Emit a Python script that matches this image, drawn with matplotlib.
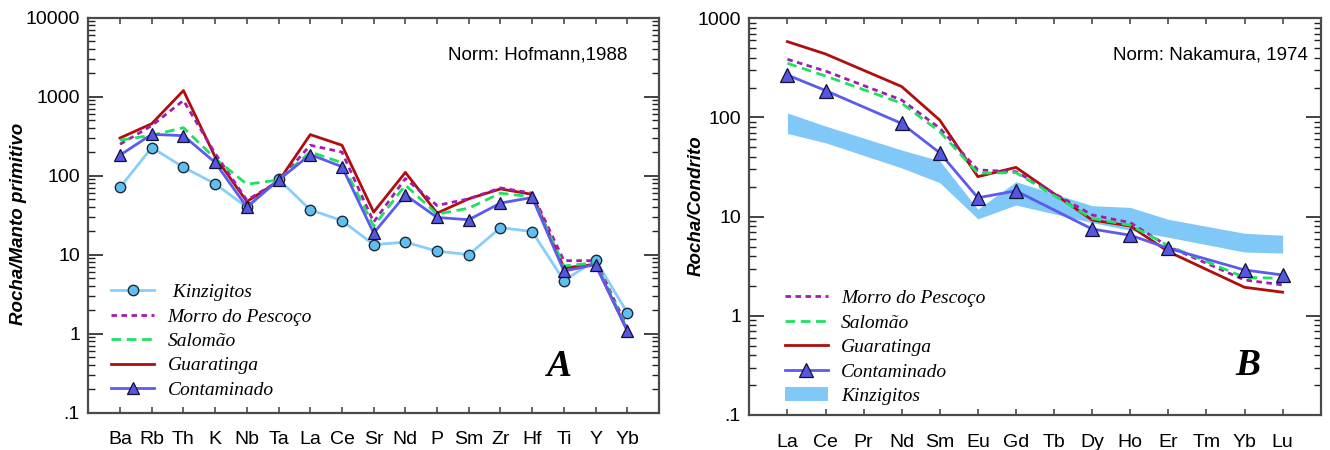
import matplotlib
matplotlib.use("Agg")
import matplotlib.pyplot as plt
from matplotlib.patches import Patch
from matplotlib.ticker import FixedLocator, FixedFormatter, LogLocator, NullFormatter

# ---------------- data: panel A (primitive mantle normalised) ----------------
spider_elems = ["Ba", "Rb", "Th", "K", "Nb", "Ta", "La", "Ce", "Sr", "Nd", "P",
                "Sm", "Zr", "Hf", "Ti", "Y", "Yb"]
kinz_A = [71, 227, 128, 79, 40, 90, 37, 27, 13.4, 14.4, 11.1, 10.0, 22, 19.6, 4.7, 8.5, 1.85]
morro_A = [250, 430, 895, 191, 49, 85, 243, 199, 25.9, 92, 42, 51, 70, 60, 8.4, 8.4, 1.2]
salomao_A = [281, 325, 405, 165, 78, 88, 200, 146, 23, 76, 32.6, 38.8, 60, 54, 7.2, 7.9, 1.15]
guar_A = [300, 455, 1196, 173, 47, 85, 331, 243, 34.6, 110, 33.6, 51, 68, 58, 6.8, 7.5, 1.09]
cont_A = [182, 334, 321, 147, 40, 88, 185, 130, 18.8, 57, 29.6, 27.7, 45, 53, 6.2, 7.5, 1.09]

# ---------------- data: panel B (chondrite normalised REE) ----------------
ree_elems = ["La", "Ce", "Pr", "Nd", "Sm", "Eu", "Gd", "Tb", "Dy", "Ho", "Er", "Tm", "Yb", "Lu"]
morro_B = [386, 294, None, 150, 78, 29.6, 28.4, None, 10.4, 8.7, 5.0, None, 2.3, 2.05]
salomao_B = [352, 262, None, 139, 72, 27.4, 27.8, None, 9.6, 8.2, 5.1, None, 2.44, 2.39]
guar_B = [582, 437, None, 205, 94, 25.3, 31.4, None, 9.25, 8.05, 4.44, None, 1.94, 1.73]
cont_B = [268, 187, None, 87, 44, 15.5, 18.2, None, 7.5, 6.5, 4.8, None, 2.9, 2.58]
kinz_B_high = [111, 82, None, 47, 36.6, 11.9, 22.5, None, 12.9, 12.4, 9.4, None, 6.8, 6.5]
kinz_B_low = [69, 55.6, None, 31, 22, 9.5, 13.1, None, 8.7, 7.3, 6.2, None, 4.4, 4.3]

ytick_vals = [0.1, 1, 10, 100, 1000, 10000]
ytick_labels = [".1", "1", "10", "100", "1000", "10000"]

# ---------------- style ----------------
SANS = "Liberation Sans"
SERIF = "Liberation Serif"
C_KINZ_LINE = "#87cefa"
C_KINZ_FACE = "#5fbfee"
C_MORRO = "#a21caf"
C_SAL = "#1fe060"
C_GUAR = "#b00d0d"
C_CONT = "#5b5bef"
C_CONT_FACE = "#5656e0"
C_BAND = "#80c8f8"
C_SPINE = "#4a4a4a"

plt.rcParams["font.family"] = [SANS, "DejaVu Sans"]

fig = plt.figure(figsize=(13.3, 4.5), dpi=100)
axA = fig.add_axes([0.0664, 0.0829, 0.4291, 0.8778])
axB = fig.add_axes([0.5634, 0.0778, 0.4296, 0.8815])


def present(vals):
    idx = [i for i, v in enumerate(vals) if v is not None]
    return idx, [vals[i] for i in idx]


def style_axes(ax, cats, ymax, ylabels_n):
    ax.set_yscale("log")
    ax.set_xlim(-1, len(cats))
    ax.set_ylim(0.1, ymax)
    ax.set_xticks(range(len(cats)))
    ax.set_xticklabels(cats, fontsize=14, fontfamily=SANS)
    ax.yaxis.set_major_locator(FixedLocator(ytick_vals[:ylabels_n]))
    ax.yaxis.set_major_formatter(FixedFormatter(ytick_labels[:ylabels_n]))
    ax.yaxis.set_minor_locator(LogLocator(base=10, subs=range(2, 10), numticks=20))
    ax.yaxis.set_minor_formatter(NullFormatter())
    ax.tick_params(axis="x", which="major", direction="in", top=True, bottom=True,
                   length=4, width=1.2, color=C_SPINE, pad=13.5)
    ax.tick_params(axis="y", which="major", direction="in", left=True, right=True,
                   length=10.5, width=1.2, color="#222222", labelsize=14, pad=6)
    ax.tick_params(axis="y", which="minor", direction="in", left=True, right=True,
                   length=5, width=1.0, color="#222222")
    for sp in ax.spines.values():
        sp.set_color(C_SPINE)
        sp.set_linewidth(1.6)


# ---------------- Panel A ----------------
xA = list(range(len(spider_elems)))
lk, = axA.plot(xA, kinz_A, color=C_KINZ_LINE, lw=2, marker="o", ms=7.5,
               mfc=C_KINZ_FACE, mec="#1b2a3a", mew=1.0, zorder=3)
lg, = axA.plot(xA, guar_A, color=C_GUAR, lw=2, zorder=4)
lm, = axA.plot(xA, morro_A, color=C_MORRO, lw=2, ls=(0, (2, 1.6)), zorder=5)
ls_, = axA.plot(xA, salomao_A, color=C_SAL, lw=2, ls=(0, (3.5, 2)), zorder=5)
lc, = axA.plot(xA, cont_A, color=C_CONT, lw=2, marker="^", ms=8,
               mfc=C_CONT_FACE, mec="#111133", mew=0.9, zorder=6)
style_axes(axA, spider_elems, 10000, 6)
axA.set_ylabel("Rocha/Manto primitivo", fontsize=13.5, fontweight="bold",
               fontstyle="italic", fontfamily=SANS)
axA.yaxis.set_label_coords(-0.108, 0.478)
axA.text(0.945, 0.905, "Norm: Hofmann,1988", transform=axA.transAxes,
         ha="right", va="center", fontsize=13.5, fontfamily=SANS)
axA.text(0.825, 0.116, "A", transform=axA.transAxes, ha="center", va="center",
         fontsize=27, fontweight="bold", fontstyle="italic", fontfamily=SERIF)
legA = axA.legend([lk, lm, ls_, lg, lc],
                  [" Kinzigitos", "Morro do Pescoço", "Salomão", "Guaratinga", "Contaminado"],
                  loc="upper left", bbox_to_anchor=(0.04, 0.327), frameon=False,
                  borderpad=0, borderaxespad=0, handlelength=2.2, handletextpad=0.7,
                  labelspacing=0.35, numpoints=1,
                  prop={"family": SERIF, "style": "italic", "size": 14})

# ---------------- Panel B ----------------
ib, vb = present(kinz_B_high)
_, vl = present(kinz_B_low)
axB.fill_between(ib, vl, vb, color=C_BAND, lw=0, zorder=2)
i, v = present(guar_B)
bg, = axB.plot(i, v, color=C_GUAR, lw=2, zorder=4)
i, v = present(morro_B)
bm, = axB.plot(i, v, color=C_MORRO, lw=2, ls=(0, (2, 1.6)), zorder=5)
i, v = present(salomao_B)
bs, = axB.plot(i, v, color=C_SAL, lw=2, ls=(0, (3.5, 2)), zorder=5)
i, v = present(cont_B)
bc, = axB.plot(i, v, color=C_CONT, lw=2, marker="^", ms=10,
               mfc=C_CONT_FACE, mec="#111133", mew=0.9, zorder=6)
style_axes(axB, ree_elems, 1000, 5)
axB.set_ylabel("Rocha/Condrito", fontsize=13.5, fontweight="bold",
               fontstyle="italic", fontfamily=SANS)
axB.yaxis.set_label_coords(-0.078, 0.527)
axB.text(0.978, 0.908, "Norm: Nakamura, 1974", transform=axB.transAxes,
         ha="right", va="center", fontsize=13.5, fontfamily=SANS)
axB.text(0.873, 0.124, "B", transform=axB.transAxes, ha="center", va="center",
         fontsize=27, fontweight="bold", fontstyle="italic", fontfamily=SERIF)
band_handle = Patch(facecolor=C_BAND, edgecolor="none")
legB = axB.legend([bm, bs, bg, bc, band_handle],
                  ["Morro do Pescoço", "Salomão", "Guaratinga", "Contaminado", "Kinzigitos"],
                  loc="upper left", bbox_to_anchor=(0.062, 0.316), frameon=False,
                  borderpad=0, borderaxespad=0, handlelength=2.2, handletextpad=0.7,
                  labelspacing=0.35, numpoints=1,
                  prop={"family": SERIF, "style": "italic", "size": 14})

fig.savefig("out.png", dpi=100)
